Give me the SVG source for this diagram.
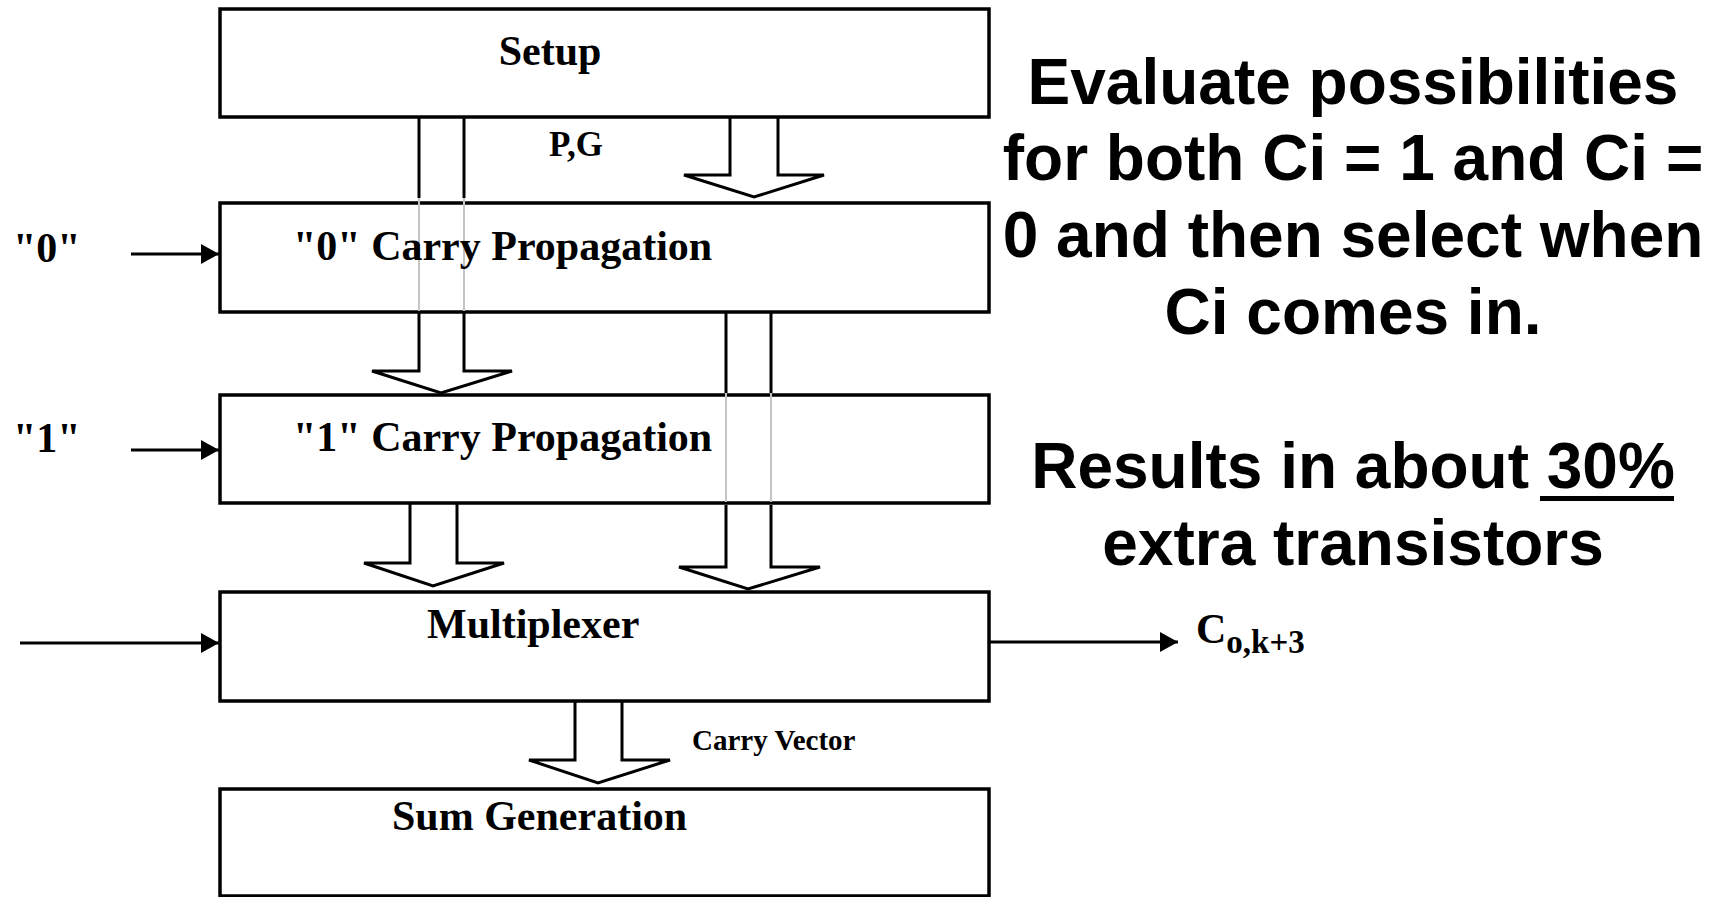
<svg xmlns="http://www.w3.org/2000/svg" width="1710" height="897" viewBox="0 0 1710 897">
  <defs>
    <marker id="arrowhead" markerUnits="userSpaceOnUse" markerWidth="18" markerHeight="20" refX="18" refY="10" orient="auto">
      <path d="M0,0 L18,10 L0,20 z" fill="#000"/>
    </marker>
    <style>
      .box { fill: #fff; stroke: #000; stroke-width: 3.5; }
      .block { fill: #fff; stroke: #000; stroke-width: 3; stroke-linejoin: miter; }
      .shaft { fill: none; stroke: #000; stroke-width: 3; }
      .ghost { fill: none; stroke: #c4c4c4; stroke-width: 2; }
      .wire { fill: none; stroke: #000; stroke-width: 3; marker-end: url(#arrowhead); }
      .title { font-family: "Liberation Serif", "Times New Roman", serif; font-weight: bold; font-size: 42px; fill: #000; }
      .small { font-family: "Liberation Serif", "Times New Roman", serif; font-weight: bold; font-size: 29px; fill: #000; }
      .pg { font-size: 35px; }
      .sub { font-size: 33px; }
      .note { font-family: "Liberation Sans", Arial, sans-serif; font-weight: bold; font-size: 64px; fill: #000; text-anchor: middle; }
    </style>
  </defs>

  <!-- block arrows between the stages (drawn first, boxes cover them) -->
  <g id="connectors">
    <!-- Setup -> "1" Carry Propagation, passing behind the "0" stage -->
    <g id="arrow-setup-carry1">
      <line class="shaft" x1="419" y1="117" x2="419" y2="198"/>
      <line class="shaft" x1="464" y1="117" x2="464" y2="198"/>
      <polyline class="block" points="419,312 419,371 372,371 441,393 512,371 464,371 464,312"/>
    </g>
    <!-- Setup -> "0" Carry Propagation -->
    <polyline id="arrow-setup-carry0" class="block" points="730,117 730,175 684,175 754,197 824,175 778,175 778,117"/>
    <!-- "0" Carry Propagation -> Multiplexer, passing behind the "1" stage -->
    <g id="arrow-carry0-mux">
      <line class="shaft" x1="726" y1="312" x2="726" y2="393"/>
      <line class="shaft" x1="771" y1="312" x2="771" y2="393"/>
      <polyline class="block" points="726,505 726,567 679,567 748,589 820,567 771,567 771,505"/>
    </g>
    <!-- "1" Carry Propagation -> Multiplexer -->
    <polyline id="arrow-carry1-mux" class="block" points="410,503 410,563 364,563 433,586 504,563 457,563 457,503"/>
    <!-- Multiplexer -> Sum Generation -->
    <polyline id="arrow-mux-sum" class="block" points="575,701 575,760 529,760 598,783 670,760 622,760 622,701"/>

    <!-- carry-in wires -->
    <line id="wire-in0" class="wire" x1="131" y1="254" x2="219" y2="254"/>
    <line id="wire-in1" class="wire" x1="131" y1="450" x2="219" y2="450"/>
    <line id="wire-cin" class="wire" x1="20" y1="643" x2="219" y2="643"/>
    <line id="wire-cout" class="wire" x1="989" y1="642" x2="1178" y2="642"/>
  </g>

  <g id="setup">
    <rect class="box" x="220" y="9" width="769" height="108"/>
    <text class="title" x="550" y="65" text-anchor="middle">Setup</text>
  </g>

  <g id="carry0">
    <rect class="box" x="220" y="203" width="769" height="109"/>
    <line class="ghost" x1="419" y1="198" x2="419" y2="311"/>
    <line class="ghost" x1="464" y1="198" x2="464" y2="311"/>
    <text class="title" x="293" y="260">"0" Carry Propagation</text>
  </g>

  <g id="carry1">
    <rect class="box" x="220" y="395" width="769" height="108"/>
    <line class="ghost" x1="726" y1="393" x2="726" y2="502"/>
    <line class="ghost" x1="771" y1="393" x2="771" y2="502"/>
    <text class="title" x="293" y="451">"1" Carry Propagation</text>
  </g>

  <g id="mux">
    <rect class="box" x="220" y="592" width="769" height="109"/>
    <text class="title" x="427" y="638">Multiplexer</text>
  </g>

  <g id="sum">
    <rect class="box" x="220" y="789" width="769" height="107"/>
    <text class="title" x="392" y="830">Sum Generation</text>
  </g>

  <!-- signal labels -->
  <g id="labels">
    <text class="title" x="13" y="262">"0"</text>
    <text class="title" x="13" y="452">"1"</text>
    <text class="small pg" x="576" y="156" text-anchor="middle">P,G</text>
    <text class="small" x="692" y="750">Carry Vector</text>
    <text class="title" x="1196" y="643">C<tspan class="sub" dy="10">o,k+3</tspan></text>
  </g>

  <!-- explanatory notes -->
  <g id="notes">
    <text class="note" x="1353" y="104">Evaluate possibilities</text>
    <text class="note" x="1353" y="180">for both Ci = 1 and Ci =</text>
    <text class="note" x="1353" y="257">0 and then select when</text>
    <text class="note" x="1353" y="334">Ci comes in.</text>
    <text class="note" x="1353" y="488">Results in about 30%</text>
    <text class="note" x="1353" y="565">extra transistors</text>
    <rect x="1540" y="496" width="134" height="5" fill="#000"/>
  </g>
</svg>
